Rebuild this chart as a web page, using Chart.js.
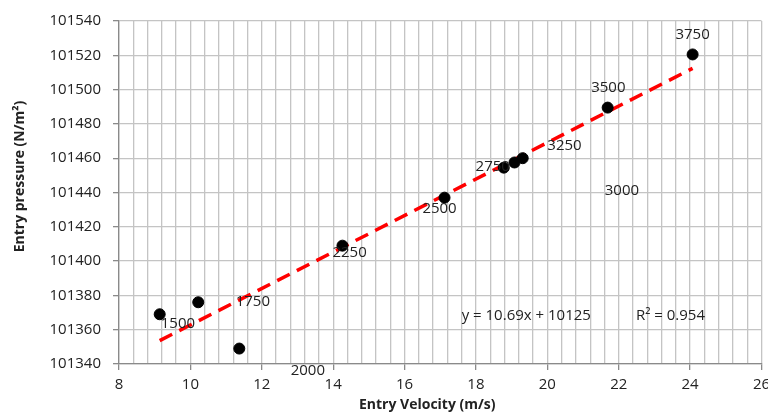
<!DOCTYPE html>
<html>
<head>
<meta charset="utf-8">
<script src="https://cdn.jsdelivr.net/npm/chart.js@4/dist/chart.umd.min.js"></script>
<style>
  html, body { margin: 0; padding: 0; background: #fff; }
  #wrap { width: 768px; height: 414px; }
</style>
</head>
<body>
<div id="wrap"><canvas id="chart" width="768" height="414"></canvas></div>
<script>
// measured points
const velocity = [9.14, 10.22, 11.37, 14.26, 17.12, 18.78, 19.08, 19.31, 21.69, 24.07];
const pressure = [101369, 101376, 101349, 101409, 101437, 101454.5, 101457.5, 101460, 101489.5, 101520.5];

// linear trend line ends
const trendX = [9.14, 24.07];
const trendY = [101353.6, 101512.4];

// rpm labels and where they sit (data units)
const rpmLabels = ["1500", "1750", "2000", "2250", "2500", "2750", "3000", "3250", "3500", "3750"];
const labelX = [9.65, 11.75, 13.29, 14.46, 16.98, 18.47, 22.09, 20.48, 21.71, 24.07];
const labelY = [101363.7, 101376.3, 101336, 101405, 101430.8, 101455, 101441, 101467.3, 101501, 101531.8];

const fitText = ["y = 10.69x + 10125", "R\u00b2 = 0.954"];
const fitX = [19.41, 23.45];
const fitY = [101368, 101368];

const xTitle = "Entry Velocity (m/s)";
const yTitle = "Entry pressure (N/m\u00b2)";

const FONT = "'Open Sans', 'DejaVu Sans', sans-serif";
const TEXT = "#222";

const isMajor = v => Math.abs(v / 2 - Math.round(v / 2)) < 1e-6;

const textPlugin = {
  id: "texts",
  afterDraw(chart) {
    const { ctx, chartArea, scales } = chart;
    const xs = scales.x, ys = scales.y;
    ctx.save();
    ctx.fillStyle = TEXT;
    ctx.textAlign = "center";
    ctx.textBaseline = "middle";
    ctx.font = "15px " + FONT;
    rpmLabels.forEach((t, i) => {
      ctx.fillText(t, xs.getPixelForValue(labelX[i]), ys.getPixelForValue(labelY[i]));
    });
    fitText.forEach((t, i) => {
      ctx.fillText(t, xs.getPixelForValue(fitX[i]), ys.getPixelForValue(fitY[i]));
    });

    // axis titles
    ctx.font = "bold 14px " + FONT;
    const midX = (chartArea.left + chartArea.right) / 2;
    ctx.fillText(xTitle, midX - 13, chartArea.bottom + 41);
    ctx.translate(20, (chartArea.top + chartArea.bottom) / 2 - 16);
    ctx.rotate(-Math.PI / 2);
    ctx.fillText(yTitle, 0, 0);
    ctx.restore();
  }
};

new Chart(document.getElementById("chart"), {
  type: "scatter",
  data: {
    datasets: [
      {
        label: "Entry pressure",
        data: velocity.map((v, i) => ({ x: v, y: pressure[i] })),
        backgroundColor: "#000",
        borderColor: "#000",
        pointRadius: 5.5,
        pointHoverRadius: 5.5
      },
      {
        label: "Linear",
        data: trendX.map((v, i) => ({ x: v, y: trendY[i] })),
        showLine: true,
        borderColor: "#ff0000",
        borderWidth: 3.5,
        borderDash: [14, 8],
        pointRadius: 0
      }
    ]
  },
  options: {
    responsive: false,
    animation: false,
    layout: { padding: { top: 21, right: 6, left: 0, bottom: 0 } },
    plugins: {
      legend: { display: false },
      tooltip: { enabled: false }
    },
    scales: {
      x: {
        type: "linear",
        min: 8,
        max: 26,
        afterFit(scale) {
          scale.height = 50;
          scale.paddingLeft = 0;
          scale.paddingRight = 0;
        },
        ticks: {
          stepSize: 0.4,
          autoSkip: false,
          maxRotation: 0,
          padding: 6,
          color: TEXT,
          font: { family: FONT, size: 15 },
          callback: v => isMajor(v) ? String(Math.round(v)) : ""
        },
        grid: {
          color: "#c4c4c4",
          lineWidth: 1.3,
          tickLength: 6,
          tickColor: c => (c.tick && isMajor(c.tick.value)) ? "#8a8a8a" : "rgba(0,0,0,0)"
        },
        border: { color: "#8a8a8a", width: 1.3 }
      },
      y: {
        min: 101340,
        max: 101540,
        afterFit(scale) {
          scale.width = 119;
          scale.paddingTop = 0;
          scale.paddingBottom = 0;
        },
        ticks: {
          stepSize: 20,
          padding: 12,
          color: TEXT,
          font: { family: FONT, size: 15 },
          callback: v => String(v)
        },
        grid: {
          color: "#c4c4c4",
          lineWidth: 1.3,
          tickLength: 6,
          tickColor: "#8a8a8a"
        },
        border: { color: "#8a8a8a", width: 1.3 }
      }
    }
  },
  plugins: [textPlugin]
});
</script>
</body>
</html>
